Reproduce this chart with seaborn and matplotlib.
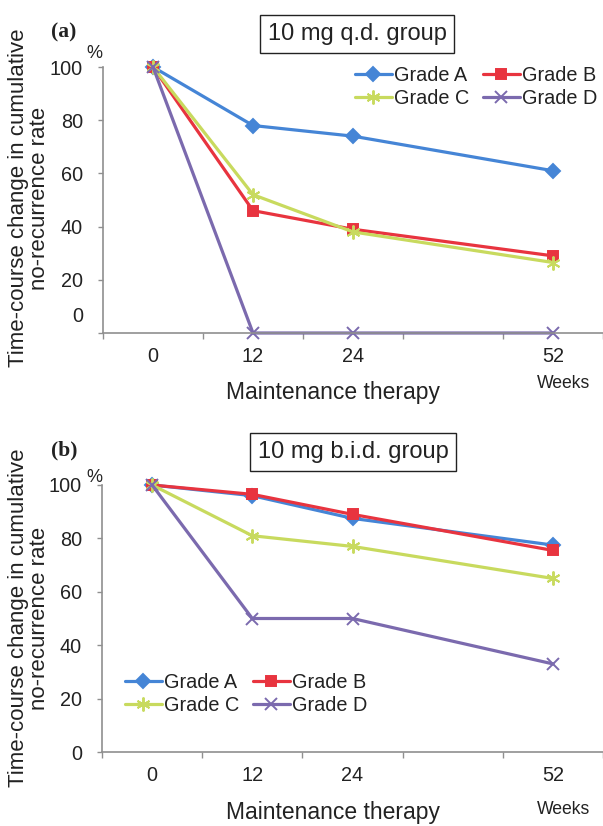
import numpy as np
import pandas as pd
import matplotlib
matplotlib.use("Agg")
import matplotlib.pyplot as plt
import seaborn as sns

# ---------------- data ----------------
week_slots = ["0", "12", "24", "", "52"]      # category axis (one blank slot)
weeks = ["0", "12", "24", "52"]
grades = ["Grade A", "Grade B", "Grade C", "Grade D"]

qd_A = [100, 78, 74, 61]
qd_B = [100, 46, 39, 29]
qd_C = [100, 52, 38, 26.5]
qd_D = [100, 0, 0, 0]

bid_A = [100, 96, 87.5, 77.5]
bid_B = [100, 96.5, 89, 75.5]
bid_C = [100, 81, 77, 65]
bid_D = [100, 50, 50, 33]

y_ticks = [0, 20, 40, 60, 80, 100]
panel_titles = ["10 mg q.d. group", "10 mg b.i.d. group"]
panel_tags = ["(a)", "(b)"]
ylabel_text = "Time-course change in cumulative\nno-recurrence rate"
xlabel_text = "Maintenance therapy"

# ---------------- style ----------------
sns.set_theme(style="white")
plt.rcParams["font.family"] = ["Liberation Sans", "DejaVu Sans"]

colors = ["#4585D6", "#E8343F", "#C8DA5E", "#7B6AAE"]
markers = ["D", "s", (6, 2, 0), "x"]
msizes = [7, 7, 10, 9]
axis_gray = "#8f8f8f"
text_col = "#222222"

W, H = 603, 826
fig = plt.figure(figsize=(W / 100, H / 100), dpi=100)


def fx(px):
    return px / W


def fy(py):
    return 1 - py / H


def draw_panel(left, top_px, bottom_px, series, title, title_xy, tag, tag_xy,
               leg_xy, zero_shift, pct_y, weeks_y, xlab_y, ylab_y):
    ax = fig.add_axes([fx(left), fy(bottom_px), fx(W - left), (bottom_px - top_px) / H])
    span = bottom_px - top_px
    pos = [week_slots.index(w) for w in weeks]
    for name, vals, c, m, ms in zip(grades, series, colors, markers, msizes):
        df = pd.DataFrame({"pos": pos, "rate": vals})
        sns.lineplot(data=df, x="pos", y="rate", ax=ax, color=c, marker=m,
                     markersize=ms, markeredgecolor=c, markerfacecolor=c,
                     markeredgewidth=1.4, linewidth=2.3, errorbar=None,
                     clip_on=False, legend=False)
    ax.set_xlim(-0.5, -0.5 + (W - left) / 102.0)
    ax.set_ylim(0, 100)
    ax.set_xticks(range(len(week_slots)))
    ax.set_xticklabels(week_slots)
    ax.set_xticks(np.arange(-0.5, len(week_slots), 1.0), minor=True)
    ax.set_yticks(y_ticks)
    ylabs = [str(t) for t in y_ticks]
    if zero_shift:
        ylabs[0] = ""
    ax.set_yticklabels(ylabs)
    ax.tick_params(axis="x", which="major", length=0, pad=10, labelsize=14.3,
                   labelcolor=text_col)
    ax.tick_params(axis="x", which="minor", length=4, width=1, color=axis_gray,
                   direction="out", bottom=True)
    ax.tick_params(axis="y", length=3.5, width=1, color=axis_gray, pad=11,
                   labelsize=14.3, labelcolor=text_col, left=True)
    if zero_shift:
        ax.annotate("0", xy=(0, 0), xycoords=("axes fraction", "data"),
                    xytext=(-14.5 - 3.5 * 100 / 72, zero_shift),
                    textcoords="offset pixels", ha="right", va="center",
                    fontsize=14.3, color=text_col, annotation_clip=False)
    for s in ["top", "right"]:
        ax.spines[s].set_visible(False)
    for s in ["left", "bottom"]:
        ax.spines[s].set_color(axis_gray)
        ax.spines[s].set_linewidth(1.2)
    ax.set_xlabel(xlabel_text, fontsize=16.5, color=text_col)
    ax.xaxis.set_label_coords((333 - left) / (W - left), (bottom_px - xlab_y) / span)
    ax.xaxis.label.set_va("center")
    ax.set_ylabel(ylabel_text, fontsize=16, color=text_col, linespacing=0.95,
                  ha="center", va="center")
    ax.yaxis.set_label_coords((29 - left) / (W - left), (bottom_px - ylab_y) / span)
    ax.text((94 - left) / (W - left), (bottom_px - pct_y) / span, "%",
            transform=ax.transAxes, ha="center", va="center", fontsize=13,
            color=text_col)
    ax.text((564 - left) / (W - left), (bottom_px - weeks_y) / span, "Weeks",
            transform=ax.transAxes, ha="center", va="center", fontsize=12.7,
            color=text_col)
    ax.set_facecolor("white")

    h = ax.lines[:4]
    order = [0, 2, 1, 3]   # fill row-wise: A B / C D
    leg = ax.legend(handles=[h[i] for i in order], labels=[grades[i] for i in order],
                    ncol=2, frameon=False,
                    loc="upper left", bbox_to_anchor=(fx(leg_xy[0]), fy(leg_xy[1])),
                    bbox_transform=fig.transFigure, borderpad=0, borderaxespad=0,
                    handlelength=1.85, handletextpad=0.1, columnspacing=0.7,
                    labelspacing=0.2, fontsize=14.3)
    for t in leg.get_texts():
        t.set_color(text_col)

    fig.text(fx(title_xy[0]), fy(title_xy[1]), title, ha="center", va="center",
             fontsize=17, color=text_col,
             bbox=dict(boxstyle="square,pad=0.33", fc="white", ec="#222222", lw=1.0))
    fig.text(fx(tag_xy[0]), fy(tag_xy[1]), tag, ha="center", va="center",
             fontsize=15.5, fontweight="bold", family=["Liberation Serif"],
             color=text_col)
    return ax


draw_panel(103, 67, 333, [qd_A, qd_B, qd_C, qd_D], panel_titles[0], (357, 34),
           panel_tags[0], (64, 32), (355, 66), 17, 53, 383, 393, 198)
draw_panel(102, 485, 752, [bid_A, bid_B, bid_C, bid_D], panel_titles[1], (353, 452),
           panel_tags[1], (64, 450), (125, 673), 0, 477, 810, 813, 618)

fig.savefig("out.png", dpi=100, facecolor="white")
